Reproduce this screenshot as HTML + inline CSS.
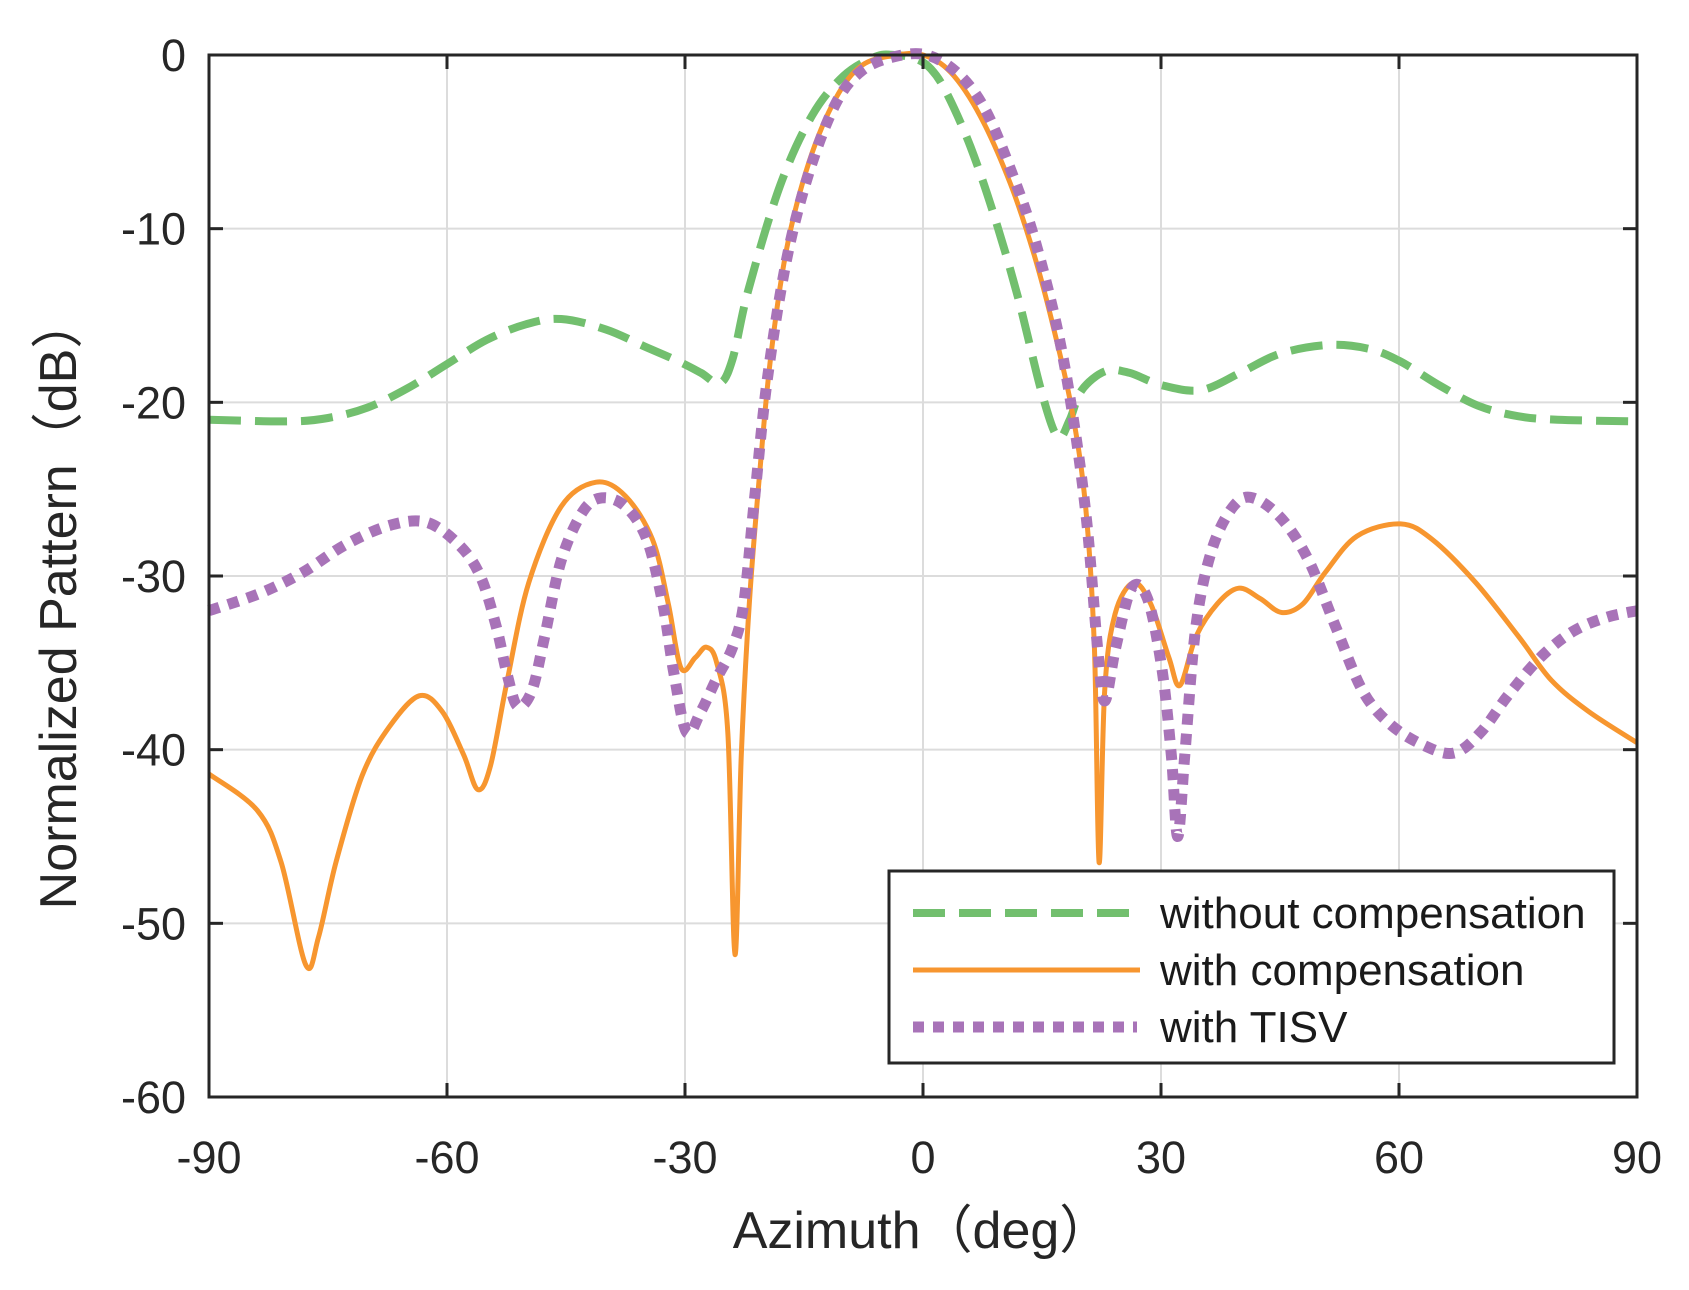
<!DOCTYPE html>
<html><head><meta charset="utf-8"><style>
html,body{margin:0;padding:0;background:#fff;}
svg{display:block;font-family:"Liberation Sans","Noto Sans CJK SC",sans-serif;}
</style></head><body>
<svg id="s" width="1689" height="1290" viewBox="0 0 1689 1290" xmlns="http://www.w3.org/2000/svg">
<rect width="1689" height="1290" fill="#fff"/>
<g id="grid" stroke="#dcdcdc" stroke-width="2"></g>
<g id="series" fill="none" stroke-linejoin="round"></g>
<rect x="209" y="55" width="1428" height="1042" fill="none" stroke="#262626" stroke-width="3"/>
<g id="ticks" stroke="#262626" stroke-width="3"></g>
<g id="labels" font-size="45" fill="#262626"></g>
<text x="922" y="1248" font-size="52" text-anchor="middle" fill="#262626">Azimuth（deg）</text>
<text transform="translate(76,603) rotate(-90)" font-size="52" text-anchor="middle" fill="#262626">Normalized Pattern（dB）</text>
<rect x="889" y="871" width="725" height="192" fill="#fff" stroke="#262626" stroke-width="3"/>
<line x1="913" y1="913" x2="1137" y2="913" stroke="#72bf6e" stroke-width="8" stroke-dasharray="32 14"/>
<line x1="913" y1="970" x2="1140" y2="970" stroke="#f7962f" stroke-width="5"/>
<line x1="913" y1="1027" x2="1137" y2="1027" stroke="#a873b8" stroke-width="11" stroke-dasharray="11 9"/>
<text x="1160" y="928" font-size="44" fill="#1a1a1a">without compensation</text>
<text x="1160" y="985" font-size="44" fill="#1a1a1a">with compensation</text>
<text x="1160" y="1042" font-size="44" fill="#1a1a1a">with TISV</text>
</svg>
<script>
var L=209,R=1637,T=55,B=1097;
function X(d){return L+(d+90)*(R-L)/180;}
function Y(v){return T+(-v)*(B-T)/60;}
var ns="http://www.w3.org/2000/svg";
function el(p,n,a,t){var e=document.createElementNS(ns,n);for(var k in a)e.setAttribute(k,a[k]);if(t!=null)e.textContent=t;document.getElementById(p).appendChild(e);return e;}
for(var d=-60;d<=60;d+=30)el("grid","line",{x1:X(d),x2:X(d),y1:T,y2:B});
for(var v=-10;v>=-50;v-=10)el("grid","line",{x1:L,x2:R,y1:Y(v),y2:Y(v)});
for(var d=-90;d<=90;d+=30){el("ticks","line",{x1:X(d),x2:X(d),y1:B,y2:B-14});el("ticks","line",{x1:X(d),x2:X(d),y1:T,y2:T+14});
 el("labels","text",{x:X(d),y:1173,"text-anchor":"middle"},String(d));}
for(var v=0;v>=-60;v-=10){el("ticks","line",{x1:L,x2:L+14,y1:Y(v),y2:Y(v)});el("ticks","line",{x1:R,x2:R-14,y1:Y(v),y2:Y(v)});
 el("labels","text",{x:186,y:Y(v)+16,"text-anchor":"end"},String(v));}
var G=[[-90,-21],[-80,-21.1],[-75,-20.9],[-70,-20.3],[-65,-19.2],[-60,-17.8],[-55,-16.4],[-50,-15.5],[-45.6,-15.2],[-40,-15.8],[-35,-16.8],[-31,-17.6],[-28,-18.3],[-25.6,-18.9],[-24,-17.5],[-22,-13.5],[-18,-7.5],[-14,-3.5],[-10,-1.2],[-6,-0.1],[-3.6,0],[-1,-0.2],[1,-0.8],[3,-2.2],[6,-5.3],[9,-9.3],[12,-14],[15,-19.5],[17,-22],[18.5,-21],[20,-19.3],[23,-18.2],[26,-18.3],[30,-19],[35,-19.3],[40,-18.3],[45,-17.2],[51,-16.7],[56,-16.9],[60,-17.6],[65,-19],[70,-20.2],[75,-20.8],[80,-21],[90,-21.1]];
var O=[[-90,-41.4],[-83.9,-43.5],[-80.9,-46.5],[-77.8,-52.4],[-76.2,-50.8],[-74,-46.5],[-70.7,-41.5],[-67.3,-38.7],[-63.5,-36.9],[-60.6,-37.8],[-57.9,-40.3],[-56.1,-42.3],[-54.5,-40.9],[-52.4,-36],[-49.7,-30.4],[-45.6,-26],[-41.2,-24.6],[-37.5,-25.4],[-34.1,-27.9],[-32.1,-31.6],[-30.5,-35.3],[-28.7,-34.7],[-27.3,-34.1],[-26,-35],[-24.6,-39],[-23.7,-51.8],[-22.9,-40.3],[-21.9,-31.6],[-20.5,-23.6],[-19.2,-17.4],[-17.2,-11.2],[-14.4,-6.2],[-11,-2.5],[-7.7,-0.6],[-3.6,-0.02],[0,0],[3.5,-1.0],[7.2,-3.5],[11,-7.4],[14,-11.5],[16.5,-15.8],[18.8,-20.5],[20.5,-26],[21.6,-34.1],[22.2,-46.5],[22.9,-36.6],[24.2,-32.2],[26.5,-30.4],[28.7,-31.6],[31,-34.7],[32.4,-36.3],[34.4,-33.5],[37.1,-31.6],[39.8,-30.7],[42.5,-31.3],[45.2,-32.1],[47.9,-31.6],[50.7,-29.8],[54.7,-27.7],[60.2,-27],[64.2,-27.9],[69.7,-30.4],[75.1,-33.5],[79.2,-36],[83.9,-37.8],[90,-39.6]];
var P=[[-90,-32],[-83.6,-31],[-78.2,-29.8],[-72.8,-28.2],[-67.3,-27.1],[-62.6,-26.9],[-58.5,-28.2],[-55.8,-30],[-53.8,-32.9],[-52.4,-35.7],[-51.1,-37.5],[-49.3,-36.6],[-47.7,-33.5],[-45.6,-29.1],[-42.9,-26.3],[-40.5,-25.5],[-37.5,-26],[-34.8,-27.9],[-32.8,-31.6],[-31.4,-35.6],[-29.8,-39],[-28,-37.8],[-26,-35.9],[-24,-34.1],[-22.6,-31.6],[-21.2,-25.4],[-19.6,-18.6],[-17.2,-11.8],[-14.4,-6.8],[-11,-2.8],[-7.7,-0.9],[-3.6,-0.1],[0.5,0],[4.5,-1.1],[7.9,-3.2],[11.3,-6.9],[14,-10.5],[16.8,-15.5],[18.8,-20.5],[20.6,-26.7],[22,-34.1],[22.9,-37.2],[24.3,-34.1],[26.3,-30.7],[28.3,-31.3],[30.1,-35.3],[31.3,-40.3],[32.1,-45],[33,-40.3],[34.4,-32.9],[36.4,-28.5],[39.1,-26],[41.6,-25.5],[45.2,-26.7],[48.6,-29.1],[52,-32.9],[55.4,-36.6],[58.8,-38.5],[62.9,-39.7],[66.9,-40.2],[70.3,-39],[73.7,-36.9],[77.8,-34.7],[81.9,-33.2],[86,-32.4],[90,-32]];
function path(a){
 var p=a.map(function(q){return [X(q[0]),Y(q[1])];});
 var s="M"+p[0][0].toFixed(1)+" "+p[0][1].toFixed(1);
 for(var i=0;i<p.length-1;i++){
  var p0=p[Math.max(0,i-1)],p1=p[i],p2=p[i+1],p3=p[Math.min(p.length-1,i+2)];
  var c1=[p1[0]+(p2[0]-p0[0])/6,p1[1]+(p2[1]-p0[1])/6];
  var c2=[p2[0]-(p3[0]-p1[0])/6,p2[1]-(p3[1]-p1[1])/6];
  s+="C"+c1[0].toFixed(1)+" "+c1[1].toFixed(1)+" "+c2[0].toFixed(1)+" "+c2[1].toFixed(1)+" "+p2[0].toFixed(1)+" "+p2[1].toFixed(1);
 }
 return s;}
el("series","path",{d:path(G),stroke:"#72bf6e","stroke-width":8,"stroke-dasharray":"32 14"});
el("series","path",{d:path(O),stroke:"#f7962f","stroke-width":5});
el("series","path",{d:path(P),stroke:"#a873b8","stroke-width":11,"stroke-dasharray":"11 9"});
</script>
</body></html>
